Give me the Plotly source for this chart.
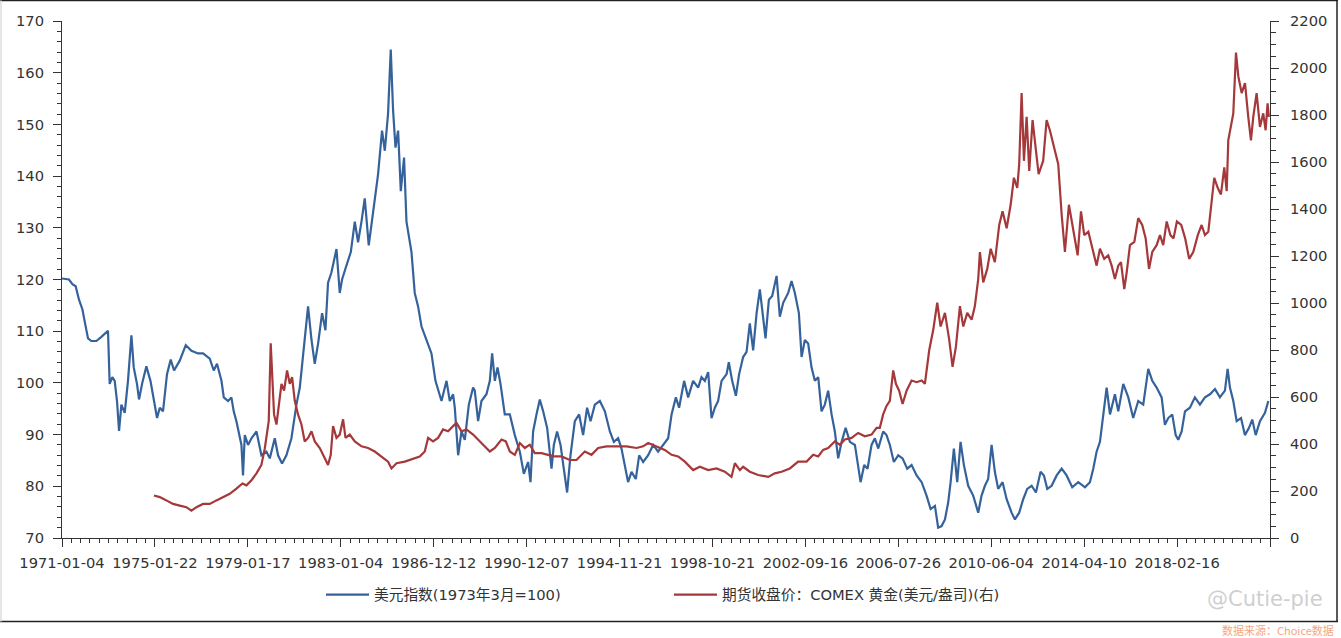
import plotly.graph_objects as go

# trading-day index (category position on the original axis) and values
usd_day = [0, 75, 112, 147, 183, 220, 244, 280, 316, 370, 424, 495, 513, 542, 567, 592, 614, 639, 675, 710,
           747, 772, 807, 829, 865, 908, 952, 998, 1023, 1052, 1087, 1130, 1170, 1206, 1267, 1332, 1393, 1464, 1518, 1590,
           1633, 1668, 1716, 1741, 1787, 1823, 1848, 1877, 1902, 1931, 1948, 1967, 2002, 2039, 2093, 2146, 2200, 2236, 2290, 2325,
           2368, 2415, 2469, 2523, 2559, 2594, 2631, 2648, 2685, 2720, 2756, 2799, 2835, 2863, 2900, 2954, 2989, 3014, 3061, 3108,
           3151, 3186, 3223, 3258, 3301, 3337, 3366, 3401, 3444, 3474, 3509, 3538, 3563, 3589, 3617, 3646, 3681, 3707, 3761, 3796,
           3832, 3869, 3922, 3976, 4019, 4047, 4084, 4138, 4173, 4209, 4227, 4263, 4299, 4335, 4378, 4424, 4442, 4478, 4514, 4568,
           4604, 4629, 4658, 4687, 4719, 4765, 4819, 4873, 4927, 4970, 5016, 5042, 5070, 5106, 5142, 5178, 5221, 5268, 5293, 5328,
           5365, 5400, 5436, 5472, 5519, 5565, 5608, 5651, 5688, 5734, 5788, 5842, 5896, 5939, 5985, 6021, 6057, 6092, 6129, 6175,
           6211, 6254, 6308, 6362, 6415, 6469, 6523, 6560, 6606, 6641, 6695, 6738, 6792, 6846, 6882, 6918, 6954, 6990, 7026, 7061,
           7098, 7152, 7176, 7212, 7252, 7287, 7330, 7367, 7402, 7438, 7475, 7510, 7546, 7571, 7607, 7643, 7690, 7725, 7761, 7815,
           7851, 7887, 7930, 7959, 7994, 8030, 8066, 8102, 8138, 8174, 8209, 8245, 8282, 8317, 8353, 8390, 8433, 8479, 8533, 8568,
           8594, 8633, 8669, 8712, 8748, 8784, 8837, 8873, 8909, 8952, 8999, 9046, 9096, 9143, 9197, 9251, 9304, 9348, 9394, 9429,
           9466, 9502, 9537, 9563, 9598, 9634, 9670, 9706, 9752, 9806, 9860, 9896, 9932, 9967, 10004, 10039, 10075, 10122, 10166, 10219,
           10255, 10301, 10344, 10387, 10435, 10481, 10531, 10567, 10603, 10650, 10704, 10758, 10811, 10872, 10936, 11009, 11062, 11098, 11134, 11170,
           11205, 11242, 11278, 11331, 11367, 11421, 11475, 11528, 11582, 11636, 11690, 11733, 11780, 11834, 11869, 11905, 11948, 11985, 12013, 12049,
           12085, 12138, 12192, 12246, 12300, 12354, 12408, 12461, 12515, 12544, 12569, 12605, 12641, 12688, 12730, 12774, 12809, 12846, 12892, 12946,
           12982]
usd_val = [120.2, 120.0, 119.1, 118.7, 116.1, 114.2, 111.9, 108.6, 108.1, 108.1, 108.9, 110.1, 99.8, 101.1, 100.4, 96.5, 90.7, 95.8, 94.2, 100.4,
           109.2, 103.0, 99.8, 96.8, 100.1, 103.2, 100.4, 95.8, 93.2, 95.2, 94.5, 101.7, 104.5, 102.4, 104.3, 107.3, 106.2, 105.7, 105.7, 104.7,
           102.4, 103.7, 100.4, 97.2, 96.5, 97.2, 94.5, 92.6, 90.6, 88.0, 82.1, 89.9, 88.0, 89.3, 90.6, 86.0, 86.7, 85.4, 89.3, 86.0,
           84.4, 86.0, 89.3, 95.8, 99.1, 105.7, 112.2, 114.8, 108.3, 103.7, 107.6, 113.5, 110.2, 119.4, 121.4, 125.9, 117.4, 120.0, 122.7, 125.3,
           131.2, 127.2, 131.2, 135.7, 126.6, 131.8, 135.1, 140.3, 148.8, 144.9, 152.1, 164.5, 152.7, 145.5, 148.8, 137.1, 143.6, 131.2, 125.3, 117.4,
           114.8, 110.9, 108.3, 105.7, 100.4, 98.5, 96.5, 100.4, 96.5, 97.8, 95.2, 86.0, 90.6, 89.0, 95.8, 99.1, 98.5, 92.6, 96.5, 97.8,
           100.4, 105.7, 100.4, 103.0, 99.8, 93.9, 93.9, 89.9, 86.7, 82.4, 84.7, 80.8, 90.6, 93.9, 96.8, 94.5, 91.3, 83.4, 88.0, 90.6,
           88.0, 83.4, 78.8, 86.0, 92.6, 93.9, 89.9, 95.2, 92.6, 95.8, 96.5, 94.5, 90.6, 88.6, 89.3, 87.3, 84.1, 80.8, 82.8, 81.4,
           86.0, 84.7, 86.0, 88.0, 86.7, 88.0, 89.3, 93.9, 97.2, 95.2, 100.4, 97.2, 100.4, 99.1, 101.1, 100.4, 102.1, 93.2, 95.2, 96.5,
           100.4, 101.7, 104.0, 100.4, 97.5, 101.7, 105.0, 106.0, 111.5, 106.3, 113.5, 118.1, 112.2, 108.6, 116.1, 116.8, 120.7, 112.8, 115.5, 117.4,
           119.7, 117.4, 113.5, 105.0, 108.3, 107.6, 103.0, 100.4, 101.1, 94.5, 95.8, 98.5, 93.9, 90.6, 85.4, 88.6, 91.3, 88.6, 88.0, 83.4,
           80.8, 84.1, 83.4, 88.0, 89.3, 87.3, 90.6, 89.9, 88.0, 84.7, 86.0, 85.4, 83.4, 84.1, 82.1, 80.8, 78.2, 75.6, 76.2, 72.0,
           72.3, 73.6, 76.9, 80.8, 87.3, 80.8, 88.6, 84.1, 80.1, 78.2, 74.9, 78.2, 80.1, 81.4, 88.0, 82.8, 79.5, 80.8, 77.5, 74.9,
           73.6, 74.9, 77.5, 79.5, 80.1, 78.8, 82.8, 82.1, 79.5, 80.1, 82.1, 83.4, 82.1, 79.8, 80.8, 79.8, 80.8, 83.4, 86.7, 88.6,
           93.9, 99.1, 93.9, 97.8, 94.5, 99.8, 97.2, 93.2, 96.5, 95.8, 102.7, 100.4, 99.1, 97.2, 91.9, 93.2, 93.9, 89.9, 89.0, 90.6,
           94.5, 95.2, 97.2, 95.8, 97.2, 97.8, 98.8, 97.2, 98.5, 102.7, 99.1, 96.5, 92.6, 93.2, 89.9, 91.3, 92.9, 89.9, 92.6, 94.2,
           96.5]

gold_day = [990, 1052, 1124, 1195, 1267, 1339, 1393, 1447, 1518, 1590, 1662, 1733, 1805, 1877, 1942, 1985, 2039, 2093, 2146, 2182,
            2225, 2246, 2261, 2282, 2308, 2333, 2362, 2390, 2422, 2451, 2476, 2505, 2540, 2577, 2612, 2648, 2685, 2720, 2774, 2828,
            2863, 2892, 2917, 2954, 2989, 3025, 3051, 3097, 3151, 3223, 3294, 3366, 3438, 3509, 3546, 3600, 3689, 3778, 3850, 3904,
            3940, 3993, 4047, 4101, 4155, 4209, 4245, 4299, 4353, 4424, 4478, 4532, 4604, 4658, 4730, 4776, 4819, 4873, 4927, 4981,
            5034, 5088, 5160, 5231, 5303, 5375, 5465, 5537, 5626, 5698, 5770, 5860, 5967, 6075, 6183, 6254, 6308, 6398, 6487, 6560,
            6631, 6703, 6792, 6864, 6954, 7044, 7133, 7205, 7241, 7295, 7330, 7402, 7492, 7600, 7671, 7744, 7833, 7922, 8013, 8084,
            8138, 8191, 8245, 8317, 8371, 8425, 8497, 8568, 8640, 8712, 8766, 8801, 8837, 8873, 8909, 8945, 8974, 9009, 9046, 9089,
            9143, 9197, 9251, 9286, 9333, 9376, 9419, 9455, 9502, 9548, 9584, 9620, 9663, 9699, 9742, 9789, 9824, 9860, 9878, 9914,
            9957, 9994, 10039, 10086, 10122, 10166, 10209, 10244, 10280, 10301, 10327, 10352, 10381, 10409, 10445, 10481, 10510, 10559, 10596, 10631,
            10674, 10721, 10758, 10793, 10836, 10883, 10930, 10966, 11001, 11045, 11081, 11134, 11170, 11216, 11259, 11296, 11331, 11367, 11396, 11432,
            11458, 11493, 11540, 11582, 11625, 11662, 11698, 11733, 11780, 11816, 11851, 11888, 11928, 11962, 11998, 12045, 12087, 12130, 12174, 12223,
            12264, 12300, 12336, 12365, 12400, 12437, 12472, 12508, 12534, 12551, 12580, 12605, 12634, 12659, 12695, 12731, 12766, 12795, 12820, 12856,
            12892, 12927, 12953, 12974, 12988]
gold_val = [181, 174, 160, 145, 138, 131, 116, 131, 145, 145, 160, 174, 188, 210, 232, 224, 246, 275, 311, 380,
            498, 829, 670, 526, 483, 570, 656, 627, 713, 656, 685, 584, 526, 483, 411, 426, 454, 411, 383, 339,
            311, 354, 476, 426, 440, 505, 426, 440, 411, 390, 383, 368, 347, 325, 296, 318, 325, 339, 347, 368,
            426, 411, 426, 462, 454, 476, 490, 454, 462, 440, 419, 397, 368, 383, 419, 411, 368, 354, 404, 383,
            397, 361, 361, 354, 347, 347, 332, 332, 368, 354, 383, 390, 390, 390, 383, 390, 404, 390, 375, 354,
            347, 325, 289, 303, 289, 296, 282, 260, 318, 289, 303, 282, 268, 260, 275, 282, 296, 325, 325, 354,
            347, 375, 383, 411, 397, 419, 426, 447, 433, 440, 469, 469, 526, 562, 584, 713, 656, 627, 570, 627,
            670, 663, 670, 656, 800, 886, 1001, 900, 958, 843, 728, 814, 987, 900, 958, 929, 987, 1102, 1217, 1088,
            1145, 1231, 1174, 1332, 1390, 1318, 1418, 1533, 1490, 1591, 1893, 1605, 1792, 1562, 1778, 1649, 1548, 1605, 1778, 1735,
            1663, 1591, 1375, 1217, 1418, 1303, 1203, 1390, 1289, 1303, 1246, 1159, 1231, 1188, 1203, 1159, 1102, 1159, 1174, 1059,
            1131, 1246, 1260, 1361, 1332, 1275, 1145, 1217, 1246, 1289, 1246, 1347, 1289, 1275, 1347, 1332, 1275, 1188, 1217, 1289,
            1332, 1289, 1303, 1418, 1533, 1490, 1462, 1577, 1476, 1692, 1749, 1807, 2066, 1965, 1893, 1936, 1792, 1692, 1792, 1893,
            1749, 1807, 1735, 1850, 1792]

tick_labels = ["1971-01-04", "1975-01-22", "1979-01-17", "1983-01-04", "1986-12-12", "1990-12-07",
               "1994-11-21", "1998-10-21", "2002-09-16", "2006-07-26", "2010-06-04", "2014-04-10", "2018-02-16", ""]
tick_pos = [i * 1000 for i in range(len(tick_labels))]

usd_name = "美元指数(1973年3月=100)"
gold_name = "期货收盘价：COMEX 黄金(美元/盎司)(右)"

FONT = "DejaVu Sans, Noto Sans CJK SC, sans-serif"
TXT = "#333333"
AX = "#333333"

fig = go.Figure()
fig.add_trace(go.Scatter(x=usd_day, y=usd_val, mode="lines", name=usd_name,
                         line=dict(color="#35629b", width=2.2)))
fig.add_trace(go.Scatter(x=gold_day, y=gold_val, mode="lines", name=gold_name, yaxis="y2",
                         line=dict(color="#a5383a", width=2.2)))

W, H = 1341, 638
L, R, T, B = 62, 71, 21, 100
pw, ph = W - L - R, H - T - B


def px(xp):
    return (xp - L) / pw


def py(yp):
    return (H - B - yp) / ph


fig.update_layout(
    width=W, height=H,
    margin=dict(l=L, r=R, t=T, b=B),
    paper_bgcolor="white", plot_bgcolor="white",
    font=dict(family=FONT, size=15, color=TXT),
    showlegend=True,
    legend=dict(orientation="h", x=px(321), xanchor="left", y=py(595), yanchor="middle",
                itemwidth=43, entrywidth=290, entrywidthmode="pixels",
                font=dict(family=FONT, size=14.7, color=TXT), bgcolor="rgba(0,0,0,0)"),
    xaxis=dict(type="linear", range=[0, 13000], tickmode="array", tickvals=tick_pos, ticktext=tick_labels,
               showgrid=False, zeroline=False, showline=True, linecolor=AX, linewidth=1,
               ticks="outside", ticklen=8, tickcolor=AX, tickwidth=1, ticklabelstandoff=3,
               tickfont=dict(family=FONT, size=14.7, color=TXT),
               minor=dict(tickmode="linear", tick0=0, dtick=100, ticks="outside", ticklen=4,
                          tickcolor=AX, tickwidth=1, showgrid=False)),
    yaxis=dict(range=[70, 170], dtick=10, tick0=70, showgrid=False, zeroline=False,
               showline=True, linecolor=AX, linewidth=1, ticks="outside", ticklen=8,
               tickcolor=AX, ticklabelstandoff=6,
               tickfont=dict(family=FONT, size=14.7, color=TXT),
               minor=dict(dtick=2, ticks="outside", ticklen=4, tickcolor=AX, showgrid=False)),
    yaxis2=dict(range=[0, 2200], dtick=200, tick0=0, overlaying="y", side="right",
                showgrid=False, zeroline=False, showline=True, linecolor=AX, linewidth=1,
                ticks="outside", ticklen=8, tickcolor=AX, ticklabelstandoff=8,
                tickfont=dict(family=FONT, size=14.7, color=TXT),
                minor=dict(dtick=50, ticks="outside", ticklen=5, tickcolor=AX, showgrid=False)),
)

# outer frame
fig.add_shape(type="line", xref="paper", yref="paper", x0=px(0), x1=px(1338), y0=py(0.5), y1=py(0.5),
              line=dict(color="#222222", width=1.5))
fig.add_shape(type="line", xref="paper", yref="paper", x0=px(1337), x1=px(1337), y0=py(0.5), y1=py(621.5),
              line=dict(color="#222222", width=1.5))
fig.add_shape(type="line", xref="paper", yref="paper", x0=px(0), x1=px(1338), y0=py(621.5), y1=py(621.5),
              line=dict(color="#222222", width=1.5))
fig.add_shape(type="line", xref="paper", yref="paper", x0=px(1), x1=px(1), y0=py(0.5), y1=py(621.5),
              line=dict(color="#dddddd", width=1.5))

# watermark and source
fig.add_annotation(xref="paper", yref="paper", x=px(1325), y=py(599), xanchor="right", yanchor="middle",
                   text="@Cutie-pie", showarrow=False,
                   font=dict(family="DejaVu Sans, sans-serif", size=21, color="#cfcfcf"))
fig.add_annotation(xref="paper", yref="paper", x=px(1336), y=py(629.5), xanchor="right", yanchor="middle",
                   text="数据来源：Choice数据", showarrow=False,
                   font=dict(family="Noto Sans CJK SC, sans-serif", size=11, color="#f4a586"))

fig.write_html("out.html", config={"displayModeBar": False},
               post_script="document.body.style.margin='0px';document.body.style.padding='0px';")
